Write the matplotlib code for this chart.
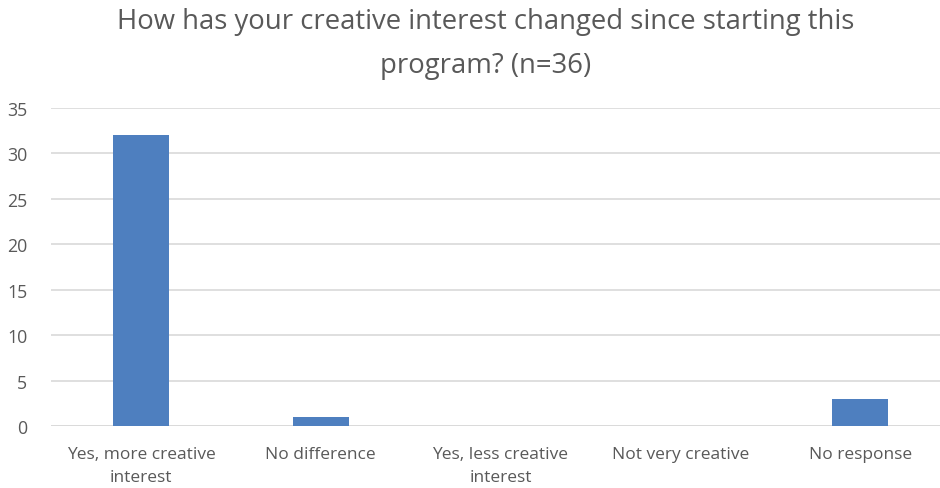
import matplotlib
matplotlib.use("Agg")
import matplotlib.pyplot as plt

categories = ["Yes, more creative\ninterest", "No difference", "Yes, less creative\ninterest",
              "Not very creative", "No response"]
values = [32, 1, 0, 0, 3]
yticks = [0, 5, 10, 15, 20, 25, 30, 35]
title = "How has your creative interest changed since starting this\nprogram? (n=36)"

plt.rcParams['font.family'] = ['Open Sans', 'DejaVu Sans']
txt = "#595959"

fig = plt.figure(figsize=(9.4, 4.89), dpi=100)
W, H = 940, 489
left, right, top, bottom = 51, 950, 109, 427.3
ax = fig.add_axes([left / W, 1 - bottom / H, (right - left) / W, (bottom - top) / H])

x = list(range(len(categories)))
ax.bar(x, values, width=0.31, color="#4e7fbf", zorder=3)
ax.set_xlim(-0.5, len(categories) - 0.5)
ax.set_ylim(0, 35)
ax.set_yticks(yticks)
ax.set_xticks(x)
ax.set_xticklabels(categories, fontsize=12.5, color=txt, linespacing=1.6)
ax.tick_params(axis='y', labelsize=12.8, colors=txt, length=0, pad=17)
ax.tick_params(axis='x', length=0, pad=14)
ax.grid(axis='y', color="#d9d9d9", linewidth=1.2, zorder=0)
for s in ax.spines.values():
    s.set_visible(False)
ax.axhline(0, color="#d9d9d9", linewidth=1.2, zorder=2)

fig.text(486 / W, 1 - 44 / H, title, ha='center', va='center', fontsize=19.8,
         color=txt, linespacing=1.75)

fig.savefig("out.png", dpi=100)
